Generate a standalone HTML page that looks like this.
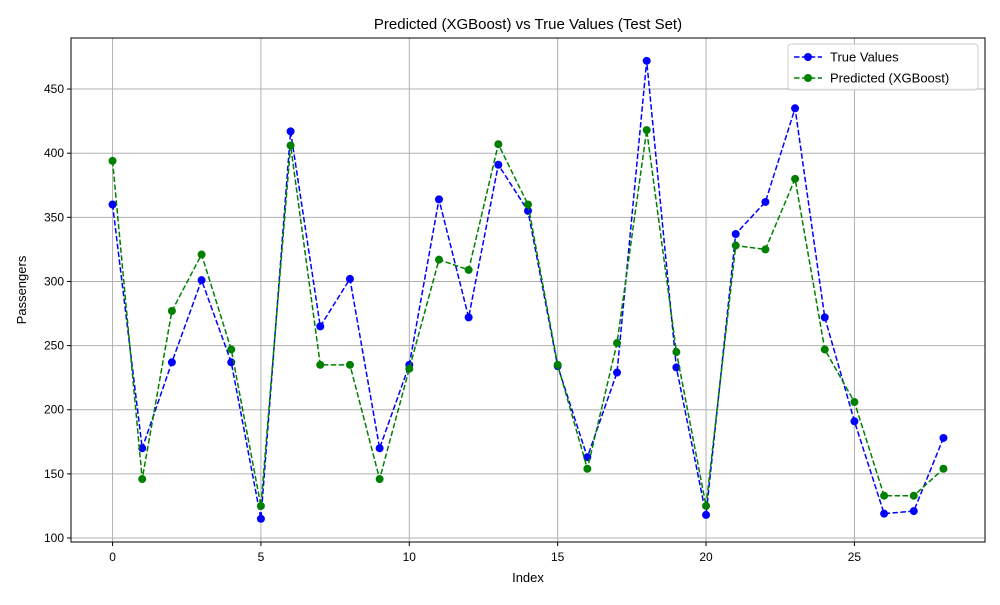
<!DOCTYPE html>
<html><head><meta charset="utf-8"><style>
body{margin:0;background:#fff;font-family:"Liberation Sans","DejaVu Sans",sans-serif}
</style></head><body>
<svg id="c" width="1000" height="600" xmlns="http://www.w3.org/2000/svg"></svg>
<script>
const indices=[0,1,2,3,4,5,6,7,8,9,10,11,12,13,14,15,16,17,18,19,20,21,22,23,24,25,26,27,28];
const trueValues=[360,170,237,301,237,115,417,265,302,170,235,364,272,391,355,234,163,229,472,233,118,337,362,435,272,191,119,121,178];
const predValues=[394,146,277,321,247,125,406,235,235,146,232,317,309,407,360,235,154,252,418,245,125,328,325,380,247,206,133,133,154];
const xTicks=[0,5,10,15,20,25];
const yTicks=[100,150,200,250,300,350,400,450];
const L=71,R=985,T=38,B=542;
const xMin=-1.4,xMax=29.4,yMin=96.9,yMax=489.8;
const X=v=>L+(v-xMin)/(xMax-xMin)*(R-L);
const Y=v=>B-(v-yMin)/(yMax-yMin)*(B-T);
const svg=document.getElementById('c');
const NS='http://www.w3.org/2000/svg';
function mk(t,a,p){const e=document.createElementNS(NS,t);for(const k in a)e.setAttribute(k,a[k]);(p||svg).appendChild(e);return e;}
function txt(s,a){const e=mk('text',Object.assign({'font-size':13,fill:'#000'},a));e.textContent=s;return e;}
xTicks.forEach(t=>{
  const g=mk('line',{x1:X(t),x2:X(t),y1:T,y2:B,stroke:'#b0b0b0','stroke-width':1});
  
  
  mk('line',{x1:X(t),x2:X(t),y1:B,y2:B+4,stroke:'#000'});
  const l=txt(t,{x:X(t),y:B+19,'text-anchor':'middle','font-size':12});
  
  
});
yTicks.forEach(t=>{
  const g=mk('line',{x1:L,x2:R,y1:Y(t),y2:Y(t),stroke:'#b0b0b0','stroke-width':1});
  
  
  mk('line',{x1:L-4,x2:L,y1:Y(t),y2:Y(t),stroke:'#000'});
  const l=txt(t,{x:L-7,y:Y(t)+4,'text-anchor':'end','font-size':12});
  
  
});
function series(vals,color,name){
  const p=mk('polyline',{points:vals.map((v,i)=>X(indices[i])+','+Y(v)).join(' '),fill:'none',stroke:color,'stroke-width':1.5,'stroke-dasharray':'5.5,2.4'});
  
  
  vals.forEach((v,i)=>{
    const c=mk('circle',{cx:X(indices[i]),cy:Y(v),r:4,fill:color});
    
    
  });
}
series(trueValues,'#0000ff','true-values');
series(predValues,'#008000','predicted');
const fr=mk('rect',{x:L,y:T,width:R-L,height:B-T,fill:'none',stroke:'#000','stroke-width':1});


const ti=txt('Predicted (XGBoost) vs True Values (Test Set)',{x:(L+R)/2,y:29,'text-anchor':'middle','font-size':15});


const xl=txt('Index',{x:(L+R)/2,y:582,'text-anchor':'middle'});


const yl=txt('Passengers',{x:0,y:0,'text-anchor':'middle',transform:'translate(26,290) rotate(-90)'});


const lg=mk('g',{});


mk('rect',{x:788,y:44,width:190,height:46,rx:3,fill:'#fff',stroke:'#ccc','fill-opacity':0.8},lg);
[['True Values','#0000ff',57],['Predicted (XGBoost)','#008000',78]].forEach(([n,c,y])=>{
  const e=mk('g',{},lg);
  
  
  mk('line',{x1:794,x2:822,y1:y,y2:y,stroke:c,'stroke-width':1.5,'stroke-dasharray':'5.5,2.4'},e);
  mk('circle',{cx:808,cy:y,r:4,fill:c},e);
  const t=mk('text',{x:830,y:y+4.5,'font-size':13},e);t.textContent=n;
});
</script>
</body></html>
